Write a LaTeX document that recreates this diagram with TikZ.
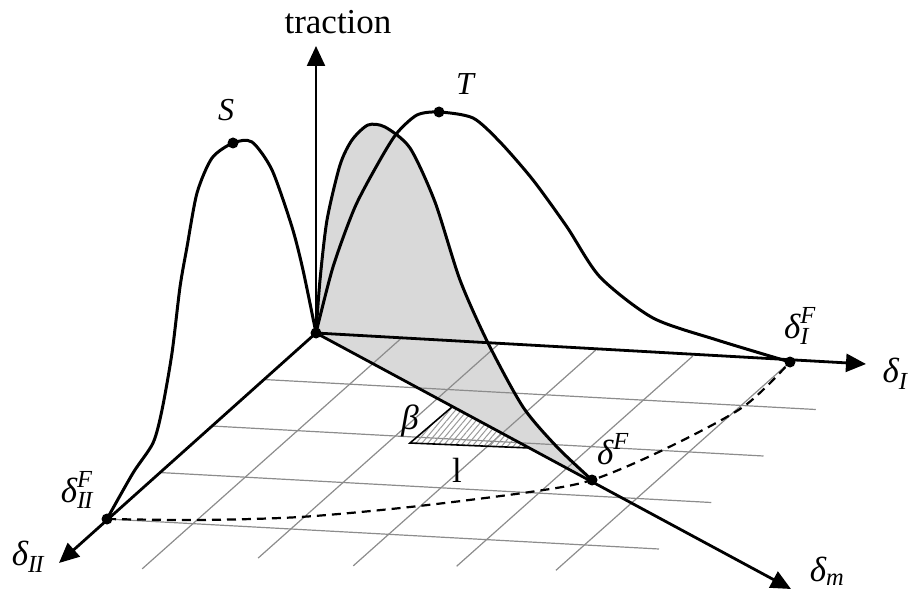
\documentclass[tikz,border=0pt]{standalone}
\usepackage{fontspec}
\setmainfont{Liberation Serif}
\usepackage{amsmath}
\usetikzlibrary{arrows.meta,patterns.meta,calc}
\newcommand{\dlt}{\text{\itshape δ}}
\newcommand{\sitx}[1]{\text{\itshape #1}}
\begin{document}
\begin{tikzpicture}[x=1pt,y=-1pt,
  axis/.style={line width=2.8pt, -{Triangle[length=20pt,width=18pt]}},
  curve/.style={line width=3pt, line join=round},
  gridline/.style={line width=1.2pt, draw=black!45},
  dashcurve/.style={line width=2.2pt, dash pattern=on 9pt off 6pt},
  dot/.style={circle, fill=black, inner sep=0pt, minimum size=11pt},
  lab/.style={font=\fontsize{35}{40}\selectfont, inner sep=0pt},
  peaklab/.style={font=\fontsize{32}{36}\selectfont\itshape, inner sep=0pt},
]
\useasboundingbox (0,0) rectangle (913,596);
% key points
\coordinate (O) at (316,333);
\coordinate (tipT) at (316,46);
\coordinate (tipI) at (866,364);
\coordinate (tipII) at (59,563);
\coordinate (tipM) at (791,589);
\coordinate (dIF) at (790,362);
\coordinate (dIIF) at (107,519);
\coordinate (dF) at (592,480);
\coordinate (S) at (233,143);
\coordinate (T) at (439,112);
\coordinate (h1) at (410,443);
\coordinate (h2) at (452,407);
\coordinate (h3) at (530,448);

% shaded mixed-mode surface
\fill[black!15] plot[smooth, tension=0.45] coordinates {(316,333) (320,280) (327,220) (340,165) (352,140) (368,125) (385,127) (410,148) (435,202) (460,280) (488,343) (523,407) (557,447) (592,480)} -- cycle;

% floor grid
\foreach \v in {0.25,0.5,0.75,1}
  \draw[gridline] ($(O)+(-209*\v,186*\v)$) -- ++(552,30);
\foreach \u/\l in {0.18/1.24,0.385/1.15,0.59/1.16,0.795/1.13,1/1.12}
  \draw[gridline] ($(O)+(474*\u,29*\u)$) -- ++(-209*\l,186*\l);

% hatched triangle
\fill[pattern={Lines[angle=50,distance=4.5pt,line width=1pt]}, pattern color=black!40] (h1) -- (h2) -- (h3) -- cycle;
\draw[line width=1.6pt] (h2) -- (h1) -- (h3);

% axes
\draw[axis, line width=2.3pt] (O) -- (tipT);
\draw[axis] (O) -- (tipI);
\draw[axis] (O) -- (tipII);
\draw[axis] (O) -- (tipM);

% curves
\draw[curve] plot[smooth, tension=0.45] coordinates {(316,333) (320,280) (327,220) (340,165) (352,140) (368,125) (385,127) (410,148) (435,202) (460,280) (488,343) (523,407) (557,447) (592,480)};
\draw[curve] plot[smooth, tension=0.45] coordinates {(316,333) (333,267) (355,207) (380,160) (397,133) (417,115) (439,112) (473,118) (500,142) (533,180) (567,227) (600,277) (653,318) (717,340) (790,362)};
\draw[curve] plot[smooth, tension=0.45] coordinates {(107,519) (133,473) (153,443) (162,410) (172,353) (180,287) (187,247) (197,193) (212,158) (233,143) (252,142) (272,170) (292,227) (303,270) (316,333)};
\draw[dashcurve] plot[smooth, tension=0.5] coordinates {(107,519) (200,520) (300,517) (410,507) (530,492) (592,480) (663,450) (743,407) (790,362)};

% dots
\foreach \p in {O,dIF,dIIF,dF,S,T}
  \node[dot] (d\p) at (\p) {};

% labels
\node[lab] (ltraction) at (338,22) {traction};
\node[peaklab] (lS) at (226,110) {S};
\node[peaklab] (lT) at (465,84) {T};
\node[lab] (lIF) at (800,326) {$\dlt^{\sitx{F}}_{\sitx{I}}$};
\node[lab] (lI) at (895,374) {$\dlt_{\sitx{I}}$};
\node[lab] (lIIF) at (77,490) {$\dlt^{\sitx{F}}_{\sitx{I\kern-1pt I}}$};
\node[lab] (lII) at (28,557) {$\dlt_{\sitx{I\kern-1pt I}}$};
\node[lab] (lF) at (613,449) {$\dlt^{\sitx{F}}$};
\node[lab] (lm) at (827,571) {$\dlt_{\sitx{m}}$};
\node[lab, font=\fontsize{35}{40}\selectfont\itshape] (lbeta) at (410,421) {β};
\node[lab] (llam) at (457,470) {l};
\end{tikzpicture}
\end{document}
